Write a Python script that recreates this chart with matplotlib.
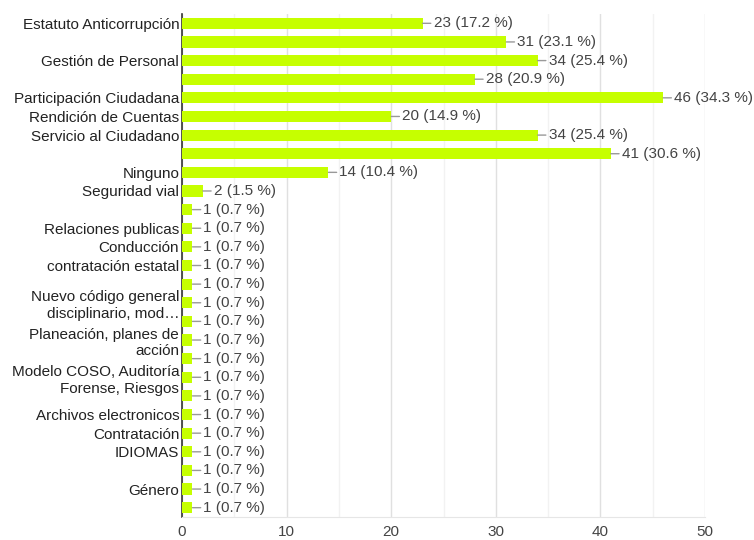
import matplotlib.pyplot as plt
from matplotlib.ticker import MultipleLocator

plt.rcParams['font.family'] = ['Liberation Sans', 'DejaVu Sans']

labels = [
    "Estatuto Anticorrupción", "", "Gestión de Personal", "",
    "Participación Ciudadana", "Rendición de Cuentas", "Servicio al Ciudadano", "",
    "Ninguno", "Seguridad vial", "", "Relaciones publicas",
    "Conducción", "contratación estatal", "",
    "Nuevo código general\ndisciplinario, mod…", "",
    "Planeación, planes de\nacción", "",
    "Modelo COSO, Auditoría\nForense, Riesgos", "",
    "Archivos electronicos", "Contratación", "IDIOMAS", "", "Género", "",
]
counts = [23, 31, 34, 28, 46, 20, 34, 41, 14, 2,
          1, 1, 1, 1, 1, 1, 1, 1, 1, 1, 1, 1, 1, 1, 1, 1, 1]
pcts = [17.2, 23.1, 25.4, 20.9, 34.3, 14.9, 25.4, 30.6, 10.4, 1.5,
        0.7, 0.7, 0.7, 0.7, 0.7, 0.7, 0.7, 0.7, 0.7, 0.7, 0.7, 0.7, 0.7, 0.7, 0.7, 0.7, 0.7]

fig = plt.figure(figsize=(7.54, 5.4), dpi=100)
ax = fig.add_axes([182 / 754, 1 - 517 / 540, 523 / 754, 503 / 540])

ypos = list(range(len(counts)))
ax.barh(ypos, counts, height=0.6, color='#c6ff00', zorder=3)

for y, c, p in zip(ypos, counts, pcts):
    ax.annotate(f"{c} ({p} %)", xy=(c, y), xytext=(11, 0), textcoords='offset pixels',
                va='center', ha='left', fontsize=11, color='#444444',
                arrowprops=dict(arrowstyle='-', color='#999999', lw=1,
                                shrinkA=0, shrinkB=0))

ax.set_xlim(0, 50)
ax.set_ylim(len(counts) - 0.5, -0.5)
ax.xaxis.set_major_locator(MultipleLocator(10))
ax.xaxis.set_minor_locator(MultipleLocator(5))
ax.grid(axis='x', which='major', color='#e0e0e0', lw=1, zorder=0)
ax.grid(axis='x', which='minor', color='#f2f2f2', lw=1, zorder=0)

ax.set_yticks(ypos)
ax.set_yticklabels(labels, fontsize=11, color='#222222', linespacing=1.25)
ax.tick_params(axis='y', length=0, pad=2)
ax.tick_params(axis='x', which='both', length=0, pad=6, labelsize=11, labelcolor='#444444')

for s in ['top', 'right']:
    ax.spines[s].set_visible(False)
ax.spines['bottom'].set_color('#e6e6e6')
ax.spines['left'].set_color('#333333')
ax.spines['left'].set_linewidth(1.2)

fig.savefig('out.png', dpi=100)
